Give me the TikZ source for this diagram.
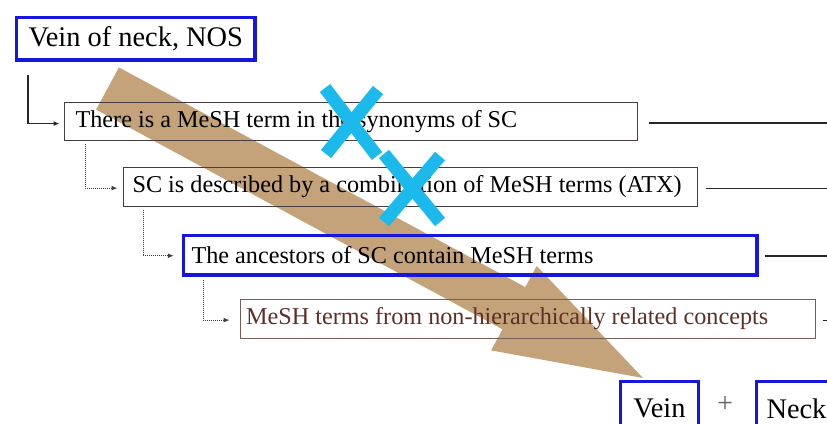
\documentclass[tikz,border=0pt]{standalone}
\usepackage{fontspec}
\setmainfont{Liberation Serif}
\usetikzlibrary{arrows.meta,calc}
\definecolor{boxblue}{RGB}{22,22,220}
\definecolor{boxgray}{RGB}{70,62,62}
\definecolor{boxbrown}{RGB}{120,95,85}
\definecolor{textbrown}{RGB}{92,48,38}
\definecolor{tanarrow}{RGB}{197,163,122}
\definecolor{crosscyan}{RGB}{28,186,236}
% a left-aligned line of given width, keeping the font's own word spacing
\newcommand{\rowline}[2]{\makebox[#1][l]{#2}}
\tikzset{
  bigfont/.style={font=\fontsize{28.4}{32}\selectfont},
  rowfont/.style={font=\fontsize{24.2}{28}\selectfont},
  bluebox/.style={draw=boxblue, line width=3.5pt, inner ysep=0pt},
  rowbox/.style={draw=boxgray, line width=1.2pt, inner ysep=0pt, anchor=north west, rowfont},
  leader/.style={draw=black!85, line width=1.3pt},
  linkdot/.style={draw=black!75, line width=1pt, dash pattern=on 1pt off 1pt, -{Latex[length=6pt,width=5pt]}},
  linksolid/.style={draw=black!85, line width=1.3pt, -{Latex[length=6pt,width=5pt]}},
  cross/.style={draw=crosscyan, line width=13pt},
}
\begin{document}
\begin{tikzpicture}[x=1pt,y=-1pt]
\useasboundingbox (0,0) rectangle (827,423);
\clip (0,0) rectangle (827,423);

% broad shaded arrow running behind the rows
\fill[tanarrow] (96.1,109.6) -- (118.9,67.4) -- (525.3,287.1) -- (536.7,266.0)
  -- (643,378) -- (491.1,350.4) -- (502.5,329.3) -- cycle;

% concept being mapped
\node[bluebox, bigfont, anchor=north west, inner xsep=12pt, minimum height=42.5pt]
  (top) at (14.75,15.75) {Vein of neck, NOS};

% the four mapping strategies
\node[rowbox, inner xsep=11.5pt, minimum height=38pt]
  (r1) at (63.5,101.5) {\rowline{550pt}{There is a MeSH term in the synonyms of SC}};
\node[rowbox, inner xsep=9.5pt, minimum height=39pt]
  (r2) at (122.5,166.5) {\rowline{555pt}{SC is described by a combination of MeSH terms (ATX)}};
\node[rowbox, draw=boxblue, line width=3.5pt, inner xsep=8pt, minimum height=39.5pt]
  (r3) at (181.75,233.75) {\rowline{557.5pt}{The ancestors of SC contain MeSH terms}};
\node[rowbox, draw=boxbrown, text=textbrown, inner xsep=6pt, minimum height=39pt]
  (r4) at (239.5,298.5) {\rowline{563pt}{MeSH terms from non-hierarchically related concepts}};

% resulting MeSH terms
\node[bluebox, bigfont, anchor=north west, inner xsep=10pt, minimum width=78pt, minimum height=54pt]
  (vein) at (618.75,379.75) {Vein};
\node[bigfont, text=black!60] (plus) at (725,404) {+};
\node[bluebox, bigfont, anchor=north west, inner xsep=10pt, minimum height=54pt]
  (neck) at (754.75,379.75) {Neck};

% connectors between the levels
\draw[linksolid] ($(top.south west)+(13.25,13)$) |- ($(r1.west)+(-4,2.5)$);
\draw[linkdot] ($(r1.south west)+(21.5,3.5)$) |- ($(r2.west)+(-5,1.5)$);
\draw[linkdot] ($(r2.south west)+(20.5,3.5)$) |- ($(r3.west)+(-8,0.5)$);
\draw[linkdot] ($(r3.south west)+(21.25,3.5)$) |- ($(r4.west)+(-10,1.5)$);

% leaders running off to the right
\coordinate (e1) at ($(r1.east)+(200,2)$);
\coordinate (e2) at ($(r2.east)+(200,2)$);
\coordinate (e3) at ($(r3.east)+(200,0.5)$);
\coordinate (e4) at ($(r4.east)+(200,2)$);
\draw[leader] ($(r1.east)+(11,2)$) -- (e1);
\draw[leader] ($(r2.east)+(8,2)$) -- (e2);
\draw[leader, line width=2.4pt] ($(r3.east)+(6,0.5)$) -- (e3);
\draw[leader] ($(r4.east)+(7,2)$) -- (e4);

% strategies crossed out
\draw[cross] (325,88) -- (377,156);
\draw[cross] (378,90) -- (326,154);
\draw[cross] (384,154) -- (440,222);
\draw[cross] (440,156) -- (384,222);
\end{tikzpicture}
\end{document}
